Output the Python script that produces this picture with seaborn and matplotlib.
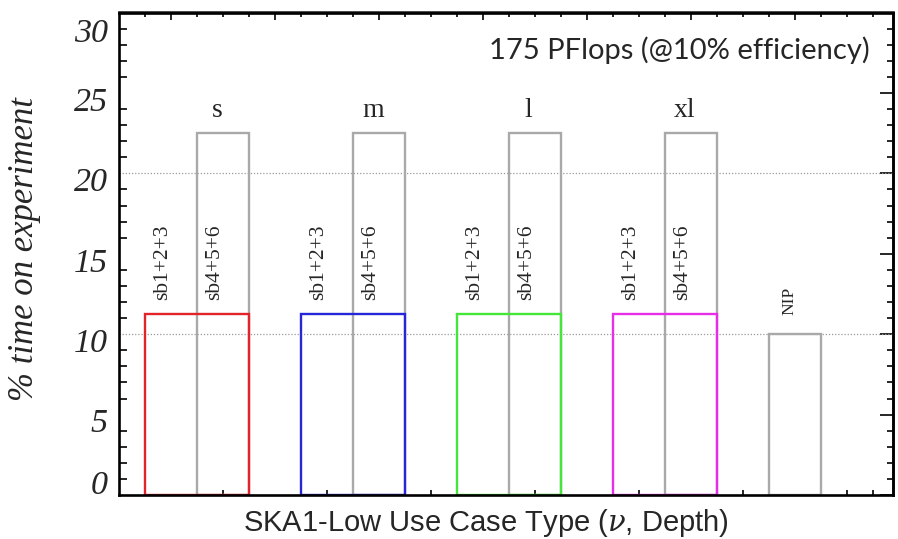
import numpy as np
import pandas as pd
import seaborn as sns
import matplotlib
matplotlib.use("Agg")
import matplotlib.pyplot as plt
from matplotlib.ticker import FixedLocator, NullFormatter
from matplotlib.transforms import ScaledTranslation

# ---- data -------------------------------------------------------------
use_cases = ["s", "m", "l", "xl"]
low_band_pct = [11.25, 11.25, 11.25, 11.25]    # sb1+2+3 share of observing time
high_band_pct = [22.5, 22.5, 22.5, 22.5]       # sb4+5+6 share of observing time
nip_pct = 10.0
low_band_label = "sb1+2+3"
high_band_label = "sb4+5+6"
nip_label = "NIP"
case_colors = ["#e2232a", "#2626d8", "#44e63a", "#e52ee5"]
band_gray = "#a9a9a9"
y_ticks = [0, 5, 10, 15, 20, 25, 30]
y_tick_labels = ["0", "5", "10", "15", "20", "25", "30"]
compute_note = "175 PFlops (@10% efficiency)"
x_title = r"SKA1-Low Use Case Type ($\nu$, Depth)"
y_title = "% time on experiment"

# ---- layout on a numeric x axis: each use case occupies 3 units ----------
n = len(use_cases)
group_start = 0.5 + 3 * np.arange(n)
low_centers = group_start + 1.0          # 2-unit wide coloured bars
high_centers = group_start + 1.5         # 1-unit wide gray bars
nip_center = 3 * n + 1.0

low_df = pd.DataFrame({"pos": low_centers, "pct": low_band_pct, "case": use_cases})
high_df = pd.DataFrame({
    "pos": list(high_centers) + [nip_center],
    "pct": high_band_pct + [nip_pct],
})

sns.set_style("white")
plt.rcParams["font.family"] = ["Liberation Serif", "DejaVu Serif"]
plt.rcParams["mathtext.fontset"] = "dejavuserif"

fig = plt.figure(figsize=(8.98, 5.39), dpi=100)
ax = fig.add_axes([119 / 898, 44 / 539, 774 / 898, 482.5 / 539])

for yv in (10, 20):
    ax.axhline(yv, color="#9a9a9a", lw=0.9, ls=(0, (1, 1.5)), zorder=0.5)

sns.barplot(data=high_df, x="pos", y="pct", native_scale=True, width=0.5,
            fill=False, color=band_gray, saturation=1, linewidth=1.7,
            errorbar=None, ax=ax)
sns.barplot(data=low_df, x="pos", y="pct", hue="case", hue_order=use_cases,
            palette=dict(zip(use_cases, case_colors)), native_scale=True,
            width=2 / 3, fill=False, saturation=1, linewidth=1.7,
            errorbar=None, legend=False, ax=ax)

ax.set_xlim(0, 774 / 52)
ax.set_ylim(0, 30)

# ---- annotations ------------------------------------------------------
for k, case in enumerate(use_cases):
    ax.text(high_centers[k] - 0.12, 23.5, case, ha="center", va="baseline",
            fontsize=20)
    ax.text(group_start[k] + 0.34, 12.1, low_band_label, rotation=90,
            ha="center", va="bottom", fontsize=15.5)
    ax.text(group_start[k] + 1.34, 12.1, high_band_label, rotation=90,
            ha="center", va="bottom", fontsize=15.5)
ax.text(nip_center - 0.1, 11.2, nip_label, rotation=90, ha="center",
        va="bottom", fontsize=12.5)

ax.text(0.970, 0.922, compute_note, transform=ax.transAxes, ha="right",
        va="center", fontsize=21, family=["Lato", "DejaVu Sans"])

# ---- axes titles ------------------------------------------------------
ax.set_ylabel(y_title, fontsize=25, style="italic")
ax.yaxis.label.set_va("center")
ax.yaxis.set_label_coords(-0.122, 0.51)
ax.set_xlabel(x_title, fontsize=21, family=["Liberation Sans", "DejaVu Sans"])
ax.xaxis.label.set_va("center")
ax.xaxis.set_label_coords(0.474, -0.058)

# ---- ticks ------------------------------------------------------------
for sp in ax.spines.values():
    sp.set_linewidth(1.9)
    sp.set_color("black")

ax.yaxis.set_major_locator(FixedLocator(y_ticks))
ax.yaxis.set_minor_locator(FixedLocator(np.arange(0, 31, 1)))
ax.set_yticklabels(y_tick_labels, fontsize=24.5, style="italic")
ax.xaxis.set_major_locator(FixedLocator(np.arange(1, 15, 2)))
ax.xaxis.set_minor_locator(FixedLocator(list(np.arange(2, 15, 2)) + [14.5]))
ax.xaxis.set_major_formatter(NullFormatter())
ax.tick_params(axis="y", which="major", direction="in", length=11.5,
               width=1.4, pad=8, right=False)
ax.tick_params(axis="y", which="minor", direction="in", length=5.8,
               width=1.4, right=False, left=True)
ax.tick_params(axis="x", which="major", direction="in", length=5.8,
               width=1.4, top=False, labelbottom=False)
ax.tick_params(axis="x", which="minor", direction="in", length=3.6,
               width=1.4, top=False, bottom=True)

shift = ScaledTranslation(0, -0.06, fig.dpi_scale_trans)
for lab in ax.get_yticklabels():
    txt = lab.get_text()
    if txt == "0":
        lab.set_va("bottom")
    elif txt == "30":
        lab.set_va("top")
    lab.set_transform(lab.get_transform() + shift)

right = ax.secondary_yaxis("right")
right.yaxis.set_major_locator(FixedLocator(y_ticks))
right.yaxis.set_minor_locator(FixedLocator(np.arange(0, 31, 1)))
right.tick_params(which="major", direction="in", length=9.4, width=1.4,
                  labelright=False)
right.tick_params(which="minor", direction="in", length=4.3, width=1.4)
right.spines["right"].set_linewidth(1.9)

top = ax.secondary_xaxis("top")
top.xaxis.set_major_locator(FixedLocator(np.arange(1, 15, 2)))
top.xaxis.set_minor_locator(FixedLocator(np.arange(0.5, 15, 0.5)))
top.tick_params(which="major", direction="in", length=5.8, width=1.4,
                labeltop=False)
top.tick_params(which="minor", direction="in", length=3.6, width=1.4)
top.spines["top"].set_linewidth(1.9)

fig.savefig("out.png", dpi=100)
